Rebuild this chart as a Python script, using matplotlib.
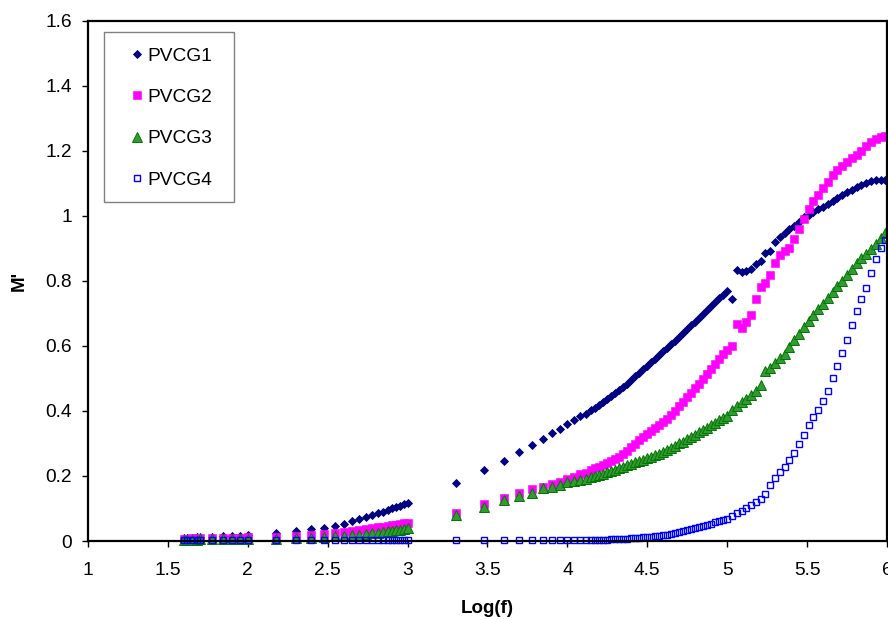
import matplotlib
matplotlib.use("Agg")
import matplotlib.pyplot as plt
from matplotlib.patches import Rectangle
from matplotlib.ticker import MultipleLocator, FuncFormatter

plt.rcParams['font.family'] = ['Liberation Sans', 'DejaVu Sans']

# log10 of the measuring frequency (Hz)
log_f = [
    1.602, 1.623, 1.653, 1.681, 1.699, 1.778, 1.845, 1.903, 1.954, 2.000,
    2.176, 2.301, 2.398, 2.477, 2.544, 2.602, 2.653, 2.699, 2.740, 2.778,
    2.813, 2.845, 2.875, 2.903, 2.929, 2.954, 2.978, 3.000,
    3.301, 3.477, 3.602, 3.699, 3.778, 3.845, 3.903, 3.954, 4.000, 4.041,
    4.079, 4.114,
    4.150, 4.175, 4.200, 4.225, 4.250, 4.275, 4.300, 4.325, 4.350, 4.375,
    4.400, 4.425, 4.450, 4.475, 4.500, 4.525, 4.550, 4.575, 4.600, 4.625,
    4.650, 4.675, 4.700, 4.725, 4.750, 4.775, 4.800, 4.825, 4.850, 4.875,
    4.900, 4.925, 4.950, 4.975, 5.000,
    5.03, 5.06, 5.09, 5.12, 5.15, 5.18, 5.21, 5.24, 5.27, 5.30,
    5.33, 5.36, 5.39, 5.42, 5.45, 5.48, 5.51, 5.54, 5.57, 5.60,
    5.63, 5.66, 5.69, 5.72, 5.75, 5.78, 5.81, 5.84, 5.87, 5.90,
    5.93, 5.96, 5.99,
]

# real part of electric modulus M'
m_pvcg1 = [
    0.008, 0.009, 0.010, 0.011, 0.012, 0.013, 0.014, 0.015, 0.016, 0.017,
    0.024, 0.032, 0.038, 0.041, 0.045, 0.053, 0.061, 0.067, 0.074, 0.081,
    0.085, 0.090, 0.095, 0.100, 0.105, 0.109, 0.113, 0.116,
    0.178, 0.217, 0.247, 0.273, 0.294, 0.314, 0.331, 0.344, 0.360, 0.373,
    0.383, 0.392,
    0.402, 0.410, 0.418, 0.427, 0.436, 0.445, 0.455, 0.464, 0.474, 0.484,
    0.495, 0.506, 0.517, 0.528, 0.538, 0.549, 0.560, 0.571, 0.583, 0.594,
    0.605, 0.616, 0.627, 0.639, 0.651, 0.663, 0.675, 0.687, 0.699, 0.711,
    0.723, 0.735, 0.747, 0.758, 0.768,
    0.745, 0.832, 0.828, 0.830, 0.838, 0.852, 0.862, 0.885, 0.893, 0.918,
    0.935, 0.948, 0.960, 0.970, 0.982, 0.995, 1.003, 1.012, 1.020, 1.028,
    1.037, 1.045, 1.054, 1.063, 1.072, 1.080, 1.088, 1.095, 1.101, 1.106,
    1.109, 1.110, 1.110,
]

m_pvcg2 = [
    0.007, 0.007, 0.008, 0.008, 0.008, 0.009, 0.009, 0.010, 0.010, 0.011,
    0.012, 0.015, 0.018, 0.022, 0.026, 0.029, 0.032, 0.035, 0.037, 0.040,
    0.042, 0.044, 0.046, 0.048, 0.050, 0.052, 0.054, 0.056,
    0.086, 0.113, 0.133, 0.147, 0.159, 0.167, 0.175, 0.183, 0.190, 0.198,
    0.205, 0.210,
    0.217, 0.223, 0.229, 0.234, 0.240, 0.246, 0.253, 0.259, 0.268, 0.277,
    0.288, 0.298, 0.310, 0.319, 0.328, 0.337, 0.347, 0.356, 0.366, 0.376,
    0.387, 0.400, 0.414, 0.428, 0.442, 0.456, 0.470, 0.484, 0.499, 0.514,
    0.530, 0.545, 0.561, 0.576, 0.588,
    0.600, 0.668, 0.655, 0.672, 0.695, 0.745, 0.780, 0.792, 0.818, 0.855,
    0.880, 0.893, 0.900, 0.928, 0.960, 0.990, 1.020, 1.045, 1.065, 1.085,
    1.104, 1.125, 1.140, 1.153, 1.165, 1.177, 1.188, 1.200, 1.215, 1.226,
    1.235, 1.242, 1.247,
]

m_pvcg3 = [
    0.004, 0.004, 0.004, 0.004, 0.005, 0.005, 0.005, 0.005, 0.006, 0.006,
    0.007, 0.008, 0.010, 0.012, 0.014, 0.016, 0.018, 0.020, 0.022, 0.024,
    0.026, 0.028, 0.030, 0.031, 0.033, 0.035, 0.037, 0.039,
    0.081, 0.106, 0.127, 0.139, 0.149, 0.162, 0.165, 0.173, 0.180, 0.184,
    0.188, 0.192,
    0.196, 0.200, 0.203, 0.207, 0.211, 0.214, 0.218, 0.223, 0.228, 0.233,
    0.238, 0.242, 0.246, 0.250, 0.254, 0.258, 0.263, 0.268, 0.274, 0.280,
    0.286, 0.293, 0.300, 0.306, 0.313, 0.320, 0.327, 0.334, 0.341, 0.349,
    0.356, 0.364, 0.371, 0.378, 0.385,
    0.403, 0.416, 0.428, 0.438, 0.450, 0.462, 0.479, 0.522, 0.532, 0.548,
    0.563, 0.576, 0.596, 0.617, 0.637, 0.657, 0.677, 0.696, 0.712, 0.729,
    0.746, 0.765, 0.783, 0.800, 0.818, 0.836, 0.854, 0.869, 0.884, 0.899,
    0.914, 0.932, 0.947,
]

m_pvcg4 = [
    0.002, 0.002, 0.002, 0.002, 0.002, 0.002, 0.002, 0.002, 0.002, 0.002,
    0.002, 0.002, 0.002, 0.002, 0.002, 0.002, 0.002, 0.002, 0.002, 0.002,
    0.002, 0.002, 0.002, 0.002, 0.002, 0.002, 0.002, 0.002,
    0.002, 0.002, 0.002, 0.002, 0.002, 0.002, 0.002, 0.002, 0.003, 0.003,
    0.003, 0.003,
    0.003, 0.003, 0.004, 0.004, 0.004, 0.005, 0.005, 0.006, 0.006, 0.007,
    0.008, 0.009, 0.010, 0.011, 0.012, 0.013, 0.014, 0.016, 0.018, 0.020,
    0.022, 0.025, 0.027, 0.030, 0.033, 0.036, 0.039, 0.042, 0.045, 0.049,
    0.053, 0.057, 0.061, 0.065, 0.069,
    0.076, 0.085, 0.093, 0.100, 0.110, 0.119, 0.130, 0.144, 0.172, 0.195,
    0.212, 0.229, 0.250, 0.272, 0.297, 0.325, 0.356, 0.382, 0.403, 0.430,
    0.461, 0.500, 0.538, 0.577, 0.617, 0.664, 0.706, 0.745, 0.778, 0.824,
    0.866, 0.900, 0.925,
]

fig = plt.figure(figsize=(8.88, 6.2), dpi=100)
ax = fig.add_axes([0.099, 0.1274, 0.8998, 0.8392])

ax.plot(log_f, m_pvcg1, linestyle='none', marker='D', markersize=4.4,
        color='#000080', markeredgewidth=0.6, label='PVCG1', clip_on=False)
ax.plot(log_f, m_pvcg2, linestyle='none', marker='s', markersize=5.8,
        color='#FF00FF', markeredgewidth=0.4, label='PVCG2', clip_on=False)
ax.plot(log_f, m_pvcg3, linestyle='none', marker='^', markersize=6.8,
        markerfacecolor='#339933', markeredgecolor='#007700',
        markeredgewidth=0.7, label='PVCG3', clip_on=False)
ax.plot(log_f, m_pvcg4, linestyle='none', marker='s', markersize=5.0,
        markerfacecolor='none', markeredgecolor='#0000FF',
        markeredgewidth=1.0, label='PVCG4', clip_on=False)

ax.set_xlim(1, 6)
ax.set_ylim(0, 1.6)
ax.xaxis.set_major_locator(MultipleLocator(0.5))
ax.yaxis.set_major_locator(MultipleLocator(0.2))
fmt = FuncFormatter(lambda v, pos: '%g' % round(v, 2))
ax.xaxis.set_major_formatter(fmt)
ax.yaxis.set_major_formatter(fmt)

for side in ['left', 'right', 'top', 'bottom']:
    ax.spines[side].set_linewidth(1.6)
    ax.spines[side].set_color('black')
ax.tick_params(axis='both', direction='out', length=4, width=1,
               labelsize=13.8, colors='black')
ax.tick_params(axis='x', pad=11)
ax.tick_params(axis='y', pad=7.5)

ax.set_xlabel('Log(f)', fontsize=13.5, fontweight='bold', labelpad=15)
ax.set_ylabel("M'", fontsize=13.5, fontweight='bold', labelpad=13)

# legend entries without their own frame; the box is drawn separately
leg = ax.legend(loc='upper left', bbox_to_anchor=(0.0517, 0.949),
                borderaxespad=0, borderpad=0, fontsize=13.8, frameon=False,
                labelspacing=1.25, handlelength=0.8, handletextpad=0.15)
ax.add_patch(Rectangle((0.02, 0.6515), 0.1627, 0.3265, transform=ax.transAxes,
                       facecolor='white', edgecolor='#808080', linewidth=1.0,
                       zorder=4))

fig.savefig('out.png', dpi=100)
